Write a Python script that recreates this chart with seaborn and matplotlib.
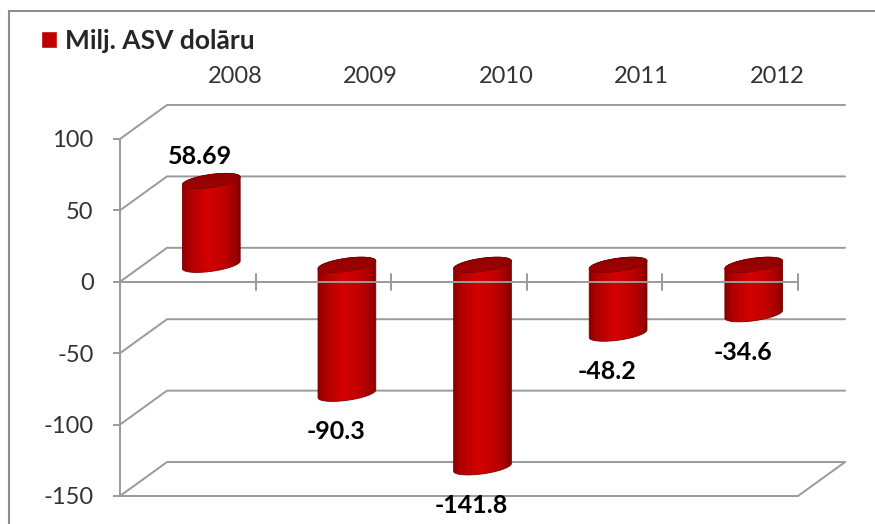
import numpy as np
import pandas as pd
import seaborn as sns
import matplotlib.pyplot as plt
from matplotlib.patches import Polygon, Patch, Rectangle
from matplotlib.colors import LinearSegmentedColormap

# dati
years = ['2008', '2009', '2010', '2011', '2012']
values = [58.69, -90.3, -141.8, -48.2, -34.6]
value_labels = ['58.69', '-90.3', '-141.8', '-48.2', '-34.6']
y_ticks = [-150, -100, -50, 0, 50, 100]
series_name = 'Milj. ASV dolāru'

W, H = 875, 524
x_left, x_right = 120, 845      # front axis .. back wall right edge (px)
y_bottom, y_top = 496, 105      # front -150 .. back 100 (px)
ddx = 47 / 135.6                # depth offset, category units
ddy = 34 / 1.43                 # depth offset, value units

sns.set_style('ticks')
plt.rcParams['font.family'] = ['Lato', 'DejaVu Sans']
plt.rcParams['axes.unicode_minus'] = False

fig = plt.figure(figsize=(W / 100, H / 100), dpi=100)
ax = fig.add_axes([x_left / W, 1 - y_bottom / H,
                   (x_right - x_left) / W, (y_bottom - y_top) / H])

df = pd.DataFrame({'year': years, 'value': values})
sns.barplot(data=df, x='year', y='value', width=0.43, color='#C00000', ax=ax)

xlim = (-0.5, 4.5 + ddx)
ylim = (-150, 100 + ddy)
sx = (x_right - x_left) / (xlim[1] - xlim[0])   # px per category
sy = (y_bottom - y_top) / (ylim[1] - ylim[0])   # px per value unit

grid_col = '#9a9a9a'
lw = 1.4

# back wall + left wall gridlines
for t in y_ticks:
    ax.plot([-0.5, -0.5 + ddx, 4.5 + ddx], [t, t + ddy, t + ddy],
            color=grid_col, lw=lw, zorder=1, clip_on=False)
# floor front edge
ax.plot([-0.5, 4.5, 4.5 + ddx], [-150, -150, -150 + ddy],
        color=grid_col, lw=lw, zorder=1, clip_on=False)
# zero line in front of the bars
ax.plot([-0.5, 4.5], [0, 0], color=grid_col, lw=lw, zorder=6, clip_on=False)
tick_h = 8 / sy
for b in np.arange(len(years)) + 0.5:
    ax.plot([b, b], [-tick_h, tick_h], color=grid_col, lw=lw, zorder=6, clip_on=False)

# cylinders
body_cmap = LinearSegmentedColormap.from_list(
    'body', [(0, '#8a0000'), (0.12, '#ad0000'), (0.42, '#d40000'),
             (0.7, '#c20000'), (0.9, '#a00000'), (1, '#7a0000')])
top_cmap = LinearSegmentedColormap.from_list('top', ['#a80000', '#880000'])
b_px = 6.5
theta = np.deg2rad(8)


def ellipse(cx, cy, a_px, t):
    px = a_px * np.cos(t) * np.cos(theta) - b_px * np.sin(t) * np.sin(theta)
    py = a_px * np.cos(t) * np.sin(theta) + b_px * np.sin(t) * np.cos(theta)
    return cx + px / sx, cy + py / sy


for patch, lab in zip(ax.patches, value_labels):
    patch.set_visible(False)
    cx = patch.get_x() + patch.get_width() / 2 + ddx / 2
    y0 = patch.get_y()
    y1 = y0 + patch.get_height()
    top = max(y0, y1) + ddy / 2
    bot = min(y0, y1) + ddy / 2
    a_px = patch.get_width() / 2 * sx

    t1 = np.linspace(np.pi, 2 * np.pi, 60)
    t2 = np.linspace(0, np.pi, 60)
    bx, by = ellipse(cx, bot, a_px, t1)
    tx, ty = ellipse(cx, top, a_px, t2)
    body = Polygon(np.column_stack([np.r_[bx, tx], np.r_[by, ty]]),
                   facecolor='none', edgecolor='#800000', lw=0.6, zorder=3)
    ax.add_patch(body)
    hw = a_px / sx
    grad = np.linspace(0, 1, 256).reshape(1, -1)
    im = ax.imshow(grad, extent=[cx - hw, cx + hw, bot - 20, top + 20],
                   aspect='auto', cmap=body_cmap, zorder=2.9, interpolation='bilinear')
    im.set_clip_path(body)

    t = np.linspace(0, 2 * np.pi, 120)
    ex, ey = ellipse(cx, top, a_px, t)
    cap = Polygon(np.column_stack([ex, ey]), facecolor='none',
                  edgecolor='#7a0000', lw=0.6, zorder=4)
    ax.add_patch(cap)
    vgrad = np.linspace(0, 1, 64).reshape(-1, 1)
    im2 = ax.imshow(vgrad, extent=[cx - hw, cx + hw, top - 10, top + 10],
                    origin='lower', aspect='auto', cmap=top_cmap, zorder=3.9)
    im2.set_clip_path(cap)

    if y1 >= 0:
        ly = top + 24 / sy
    else:
        ly = bot - 38 / sy
    ax.text(cx - 11 / sx, ly, lab, ha='center', va='center', fontsize=18,
            fontweight='bold', color='black', zorder=7)

ax.set_xlim(*xlim)
ax.set_ylim(*ylim)
ax.set_xlabel('')
ax.set_ylabel('')
ax.patch.set_alpha(0)

# y axis (front)
ax.set_yticks(y_ticks)
ax.tick_params(axis='y', left=True, length=5, width=lw, color=grid_col,
               pad=14, labelsize=17, labelcolor='#333333')
for s in ['top', 'right', 'bottom']:
    ax.spines[s].set_visible(False)
ax.spines['left'].set_bounds(-150, 100)
ax.spines['left'].set_color(grid_col)
ax.spines['left'].set_linewidth(lw)

# category labels on top
ax.set_xticks(np.arange(len(years)) + ddx, labels=years)
ax.tick_params(axis='x', top=True, bottom=False, labeltop=True, labelbottom=False,
               length=0, pad=13, labelsize=17, labelcolor='#333333')

fig.legend(handles=[Patch(facecolor='#C00000')], labels=[series_name],
           loc='center left', bbox_to_anchor=(41 / W, 1 - 41 / H), frameon=False,
           borderpad=0, borderaxespad=0, handlelength=0.62, handleheight=0.62,
           handletextpad=0.3, prop={'weight': 'bold', 'size': 19})

fig.add_artist(Rectangle((9 / W, -0.1), 1.2, 1.1 - 11 / H, transform=fig.transFigure,
                         fill=False, edgecolor='#8c8c8c', lw=1.5))

fig.savefig('out.png', dpi=100)
